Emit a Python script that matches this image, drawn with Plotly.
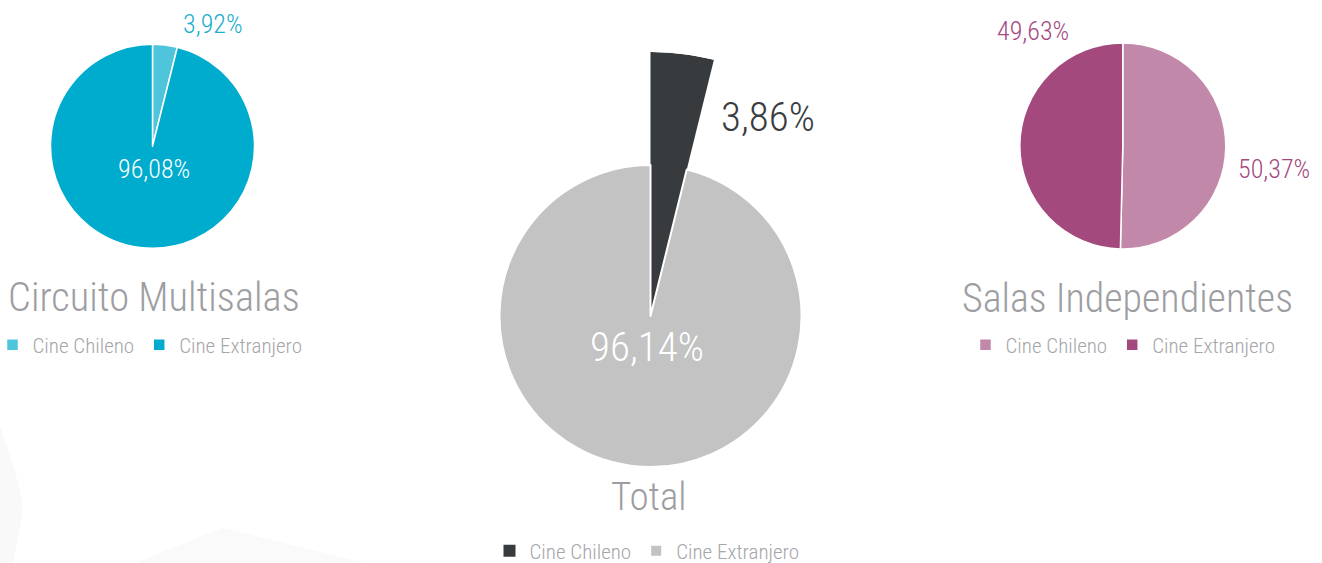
import plotly.graph_objects as go
import math

W, H = 1322, 563
FONT = "Roboto Condensed, Roboto, sans-serif"
WT = 300

# ---- data ----
categories = ["Cine Chileno", "Cine Extranjero"]
multisalas_values = [3.92, 96.08]
total_values = [3.86, 96.14]
independientes_values = [50.37, 49.63]

titles = ["Circuito Multisalas", "Total", "Salas Independientes"]

multisalas_colors = ["#4EC5DB", "#00ACCD"]
total_colors = ["#383B3E", "#C2C3C2"]
independientes_colors = ["#C288A9", "#A4497E"]


def fmt(v):
    return f"{v:.2f}".replace(".", ",") + "%"


def px_x(x):
    return x / W


def px_y(y):
    return 1 - y / H


def pie_domain(cx, cy, r):
    return dict(x=[px_x(cx - r), px_x(cx + r)], y=[px_y(cy + r), px_y(cy - r)])


fig = go.Figure()

fig.add_trace(go.Pie(
    labels=categories, values=multisalas_values, sort=False, direction="clockwise",
    marker=dict(colors=multisalas_colors, line=dict(color="white", width=1.5)),
    textinfo="none", hoverinfo="label+percent",
    domain=pie_domain(152.5, 146.2, 102), legend="legend", legendgroup="g1",
))

cx_m, cy_m, r_m, r_out = 650.5, 316, 151, 264
share = total_values[0] / sum(total_values) * 360
sec = [90 - share - 4, 92]
pts_x = [0, math.cos(math.radians(sec[0])), math.cos(math.radians(sec[1]))]
pts_y = [0, math.sin(math.radians(sec[0])), math.sin(math.radians(sec[1]))]
for a in (0, 90, 180, 270):
    if sec[0] <= a <= sec[1]:
        pts_x.append(math.cos(math.radians(a)))
        pts_y.append(math.sin(math.radians(a)))
polar_dom = dict(
    x=[px_x(cx_m + r_out * min(pts_x)), px_x(cx_m + r_out * max(pts_x))],
    y=[px_y(cy_m - r_out * min(pts_y)), px_y(cy_m - r_out * max(pts_y))],
)
fig.add_trace(go.Barpolar(
    r=[1], theta=[share / 2], width=[share], base=0,
    marker=dict(color=total_colors[0], line=dict(width=0)),
    showlegend=False, hoverinfo="skip", subplot="polar",
))

fig.add_trace(go.Pie(
    labels=categories, values=total_values, sort=False, direction="clockwise",
    marker=dict(colors=total_colors, line=dict(color="white", width=[0, 2])),
    textinfo="none", hoverinfo="label+percent",
    domain=pie_domain(cx_m, cy_m, r_m), legend="legend2", legendgroup="g2",
))

fig.add_trace(go.Pie(
    labels=categories, values=independientes_values, sort=False, direction="clockwise",
    marker=dict(colors=independientes_colors, line=dict(color="white", width=1.5)),
    textinfo="none", hoverinfo="label+percent",
    domain=pie_domain(1122.8, 146, 103), legend="legend3", legendgroup="g3",
))

label_specs = [
    (fmt(multisalas_values[0]), 212.7, 23.6, 26, "#1AAECE"),
    (fmt(multisalas_values[1]), 153.5, 168.5, 26, "white"),
    (fmt(total_values[0]), 768.3, 116.7, 41, "#3A3C3F"),
    (fmt(total_values[1]), 647, 347, 41, "white"),
    (fmt(independientes_values[1]), 1032.5, 31, 26, "#A4497E"),
    (fmt(independientes_values[0]), 1274, 168.5, 26, "#A4497E"),
]
annotations = []
for txt, x, y, s, c in label_specs:
    annotations.append(dict(text=txt, x=px_x(x), y=px_y(y), xref="paper", yref="paper",
                            xanchor="center", yanchor="middle", showarrow=False,
                            font=dict(family=FONT, size=s, color=c, weight=WT)))
for txt, x, y, s in zip(titles, [154, 648.5, 1127], [297, 497, 298], [40.5, 39, 40]):
    annotations.append(dict(text=txt, x=px_x(x), y=px_y(y), xref="paper", yref="paper",
                            xanchor="center", yanchor="middle", showarrow=False,
                            font=dict(family=FONT, size=s, color="#9D9EA2", weight=WT)))

leg_common = dict(orientation="h", xanchor="center", yanchor="middle", traceorder="normal",
                  font=dict(family=FONT, size=21, color="#A5A5AA", weight=WT),
                  bgcolor="rgba(0,0,0,0)", itemclick=False, itemdoubleclick=False)

shapes = [
    dict(type="path", xref="paper", yref="paper", layer="below", line=dict(width=0),
         fillcolor="#F9F9F9",
         path=f"M 0 {px_y(427)} Q {px_x(20)} {px_y(480)} {px_x(23)} {px_y(510)} L {px_x(13)} 0 L 0 0 Z"),
    dict(type="path", xref="paper", yref="paper", layer="below", line=dict(width=0),
         fillcolor="#FAFAFA",
         path=f"M {px_x(135)} 0 L {px_x(222)} {px_y(528)} L {px_x(365)} 0 Z"),
]

fig.update_layout(
    width=W, height=H, margin=dict(l=0, r=0, t=0, b=0, autoexpand=False),
    paper_bgcolor="white", plot_bgcolor="white",
    font=dict(family=FONT),
    showlegend=True,
    legend=dict(x=px_x(150), y=px_y(345), **leg_common),
    legend2=dict(x=px_x(647), y=px_y(551), **leg_common),
    legend3=dict(x=px_x(1123), y=px_y(345), **leg_common),
    polar=dict(
        domain=polar_dom, sector=sec, bgcolor="rgba(0,0,0,0)", hole=0,
        radialaxis=dict(visible=False, range=[0, 1]),
        angularaxis=dict(visible=False, rotation=90, direction="clockwise"),
    ),
    annotations=annotations,
    shapes=shapes,
)

fig.write_html("out.html", config={"displayModeBar": False},
               post_script="document.body.style.margin='0';document.body.style.overflow='hidden';")
